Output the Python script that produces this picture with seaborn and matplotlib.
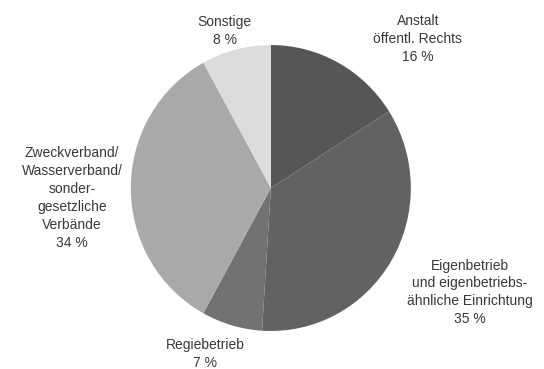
import matplotlib
matplotlib.use('Agg')
import matplotlib.pyplot as plt
import seaborn as sns

sns.set_theme(style='white')
plt.rcParams['font.family'] = ['Liberation Sans Narrow', 'Liberation Sans', 'DejaVu Sans']

# data (clockwise from 12 o'clock)
categories = ['Anstalt\nöffentl. Rechts', 'Eigenbetrieb\nund eigenbetriebs-\nähnliche Einrichtung',
              'Regiebetrieb', 'Zweckverband/\nWasserverband/\nsonder-\ngesetzliche\nVerbände', 'Sonstige']
shares = [16, 35, 7, 34, 8]
colors = ['#565656', '#626262', '#727272', '#a9a9a9', '#dcdcdc']

# label anchor positions in pie units (radius = 1)
label_pos = [(1.05, 1.04), (1.42, -0.73), (-0.47, -1.16), (-1.42, -0.07), (-0.33, 1.10)]

fig = plt.figure(figsize=(5.44, 3.69), dpi=100)
ax = fig.add_axes([0.2405, 0.1030, 0.5147, 0.7750])
ax.pie(shares, colors=colors, startangle=90, counterclock=False,
       wedgeprops=dict(linewidth=0), radius=1)
ax.set_xlim(-1, 1)
ax.set_ylim(-1, 1)
ax.set_aspect('auto')

for cat, val, (x, y) in zip(categories, shares, label_pos):
    ax.text(x, y, f'{cat}\n{val} %', ha='center', va='center', fontsize=10,
            color='#383838', linespacing=1.35, clip_on=False)

fig.savefig('out.png', dpi=100, facecolor='white')
